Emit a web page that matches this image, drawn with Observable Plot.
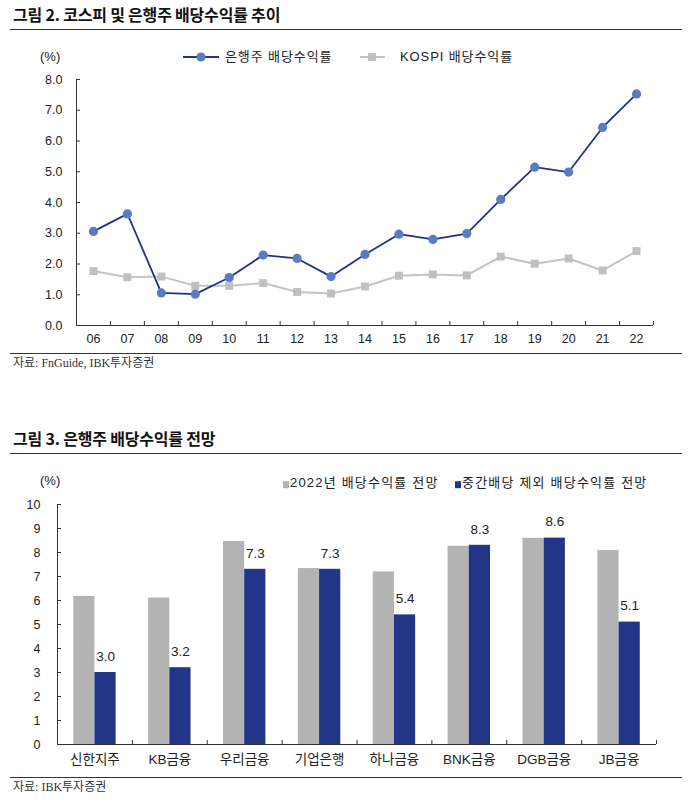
<!DOCTYPE html>
<html><head><meta charset="utf-8">
<script src="https://cdn.jsdelivr.net/npm/d3@7"></script>
<script src="https://cdn.jsdelivr.net/npm/@observablehq/plot@0.6"></script>
<style>
body{margin:0;background:#fff}
#root{position:relative;width:688px;height:802px;overflow:hidden;font-family:"Liberation Sans","Noto Sans CJK KR",sans-serif;color:#222}
.abs{position:absolute;white-space:nowrap;line-height:1.2;transform:translateY(-50%)}
.title{font-family:"Noto Sans CJK KR",sans-serif;font-weight:700;font-size:16px;left:13px;color:#111;letter-spacing:-0.2px}
.hr{position:absolute;left:10px;width:672px;height:1px;background:#333}
.src{font-family:"Liberation Serif","Noto Sans CJK KR",serif;font-size:12px;left:13px;color:#333}
.leg{font-size:13px;color:#222;letter-spacing:0.9px}
.leg2{font-size:13px;color:#222;letter-spacing:1.2px}
.pct{font-size:13px;color:#222}
.chart{position:absolute;left:0}
.sq{display:inline-block;width:6px;height:7px;margin-right:1px;vertical-align:-0.5px}
</style></head><body><div id="root"></div>
<script>
// ---- Figure 2 data ----
const years = ["06","07","08","09","10","11","12","13","14","15","16","17","18","19","20","21","22"];
const bankYield = [3.06, 3.63, 1.06, 1.02, 1.56, 2.29, 2.18, 1.59, 2.31, 2.97, 2.80, 2.99, 4.10, 5.15, 4.99, 6.44, 7.53];
const kospiYield = [1.77, 1.57, 1.59, 1.29, 1.29, 1.38, 1.09, 1.04, 1.27, 1.62, 1.66, 1.63, 2.24, 2.01, 2.18, 1.79, 2.42];
const yTicks1 = [0, 1, 2, 3, 4, 5, 6, 7, 8];

// ---- Figure 3 data ----
const banks = ["신한지주","KB금융","우리금융","기업은행","하나금융","BNK금융","DGB금융","JB금융"];
const fy2022 = [6.17, 6.10, 8.46, 7.33, 7.19, 8.26, 8.59, 8.08];
const exInterim = [3.0, 3.2, 7.3, 7.3, 5.4, 8.3, 8.6, 5.1];
const yTicks2 = [0, 1, 2, 3, 4, 5, 6, 7, 8, 9, 10];

const series1 = ["은행주 배당수익률", "KOSPI 배당수익률"];
const series2 = ["2022년 배당수익률 전망", "중간배당 제외 배당수익률 전망"];

const BLUE_LINE = "#1f3488", BLUE_DOT = "#5a7cc0", GRAY_LINE = "#c4c4c4", GRAY_SQ = "#c0c0c0";
const GRAY_BAR = "#b3b3b3", BLUE_BAR = "#233587", AX = "#333";
const FONT = '"Liberation Sans","Noto Sans CJK KR",sans-serif';
const W = 688;
const root = document.getElementById("root");

function addText(cls, txt, left, top, extra) {
  const d = document.createElement("div");
  d.className = "abs " + cls;
  d.style.left = left + "px"; d.style.top = top + "px";
  if (extra) Object.assign(d.style, extra);
  d.innerHTML = txt;
  root.appendChild(d);
  return d;
}
function addHr(top) {
  const d = document.createElement("div");
  d.className = "hr"; d.style.top = top + "px";
  root.appendChild(d);
}

// ---------- Figure 2 ----------
addText("title", "그림 2. 코스피 및 은행주 배당수익률 추이", 13, 15);
addHr(29);
addText("pct", "(%)", 40, 57);
// legend 1
const legSvg = document.createElementNS("http://www.w3.org/2000/svg", "svg");
legSvg.setAttribute("width", W); legSvg.setAttribute("height", 20);
legSvg.style.position = "absolute"; legSvg.style.left = "0px"; legSvg.style.top = "47px";
legSvg.innerHTML =
  `<line x1="183" x2="219" y1="10" y2="10" stroke="${BLUE_LINE}" stroke-width="1.8"/>` +
  `<circle cx="201" cy="10" r="4.6" fill="${BLUE_DOT}"/>` +
  `<line x1="360" x2="385" y1="10" y2="10" stroke="${GRAY_LINE}" stroke-width="2"/>` +
  `<rect x="368" y="6" width="8" height="8" fill="${GRAY_SQ}"/>`;
root.appendChild(legSvg);
addText("leg", series1[0], 225, 57);
addText("leg", series1[1], 400, 57);

const m1 = {top: 19, right: 35, bottom: 20, left: 76};
const h1 = 285;
const pw1 = W - m1.left - m1.right;
const step1 = pw1 / years.length;
const rows1 = years.map((y, i) => ({year: y, bank: bankYield[i], kospi: kospiYield[i]}));
const unit1 = (h1 - m1.top - m1.bottom) / 8;

const chart1 = Plot.plot({
  width: W, height: h1,
  marginTop: m1.top, marginRight: m1.right, marginBottom: m1.bottom, marginLeft: m1.left,
  style: {fontFamily: FONT, fontSize: "12.5px", color: "#222", background: "transparent", overflow: "visible"},
  x: {type: "band", domain: years, padding: 0, round: false, label: null},
  y: {domain: [0, 8], label: null},
  marks: [
    Plot.axisY(yTicks1, {tickSize: 0, tickPadding: 14, tickFormat: d3.format(".1f"), fontSize: 12.5}),
    Plot.axisX({tickSize: 0, tickPadding: 9, fontSize: 12.5}),
    Plot.ruleY(yTicks1, {insetRight: pw1 - 4, stroke: AX}),
    Plot.ruleX([years[0]], {x: d => d, dx: -step1 / 2, y1: 0, y2: 8, stroke: AX}),
    Plot.ruleX(years, {x: d => d, dx: -step1 / 2, y1: 0, y2: 4 / unit1, stroke: AX}),
    Plot.ruleX([years[years.length - 1]], {x: d => d, dx: step1 / 2, y1: 0, y2: 4 / unit1, stroke: AX}),
    Plot.ruleY([0], {stroke: AX}),
    Plot.line(rows1, {x: "year", y: "kospi", stroke: GRAY_LINE, strokeWidth: 2}),
    Plot.dot(rows1, {x: "year", y: "kospi", symbol: "square", r: 4.5, fill: GRAY_SQ}),
    Plot.line(rows1, {x: "year", y: "bank", stroke: BLUE_LINE, strokeWidth: 1.8}),
    Plot.dot(rows1, {x: "year", y: "bank", r: 4.6, fill: BLUE_DOT})
  ]
});
const c1 = document.createElement("div");
c1.className = "chart"; c1.style.top = "60px";
c1.appendChild(chart1); root.appendChild(c1);

addHr(353);
addText("src", "자료: FnGuide, IBK투자증권", 13, 363);

// ---------- Figure 3 ----------
addText("title", "그림 3. 은행주 배당수익률 전망", 13, 439);
addHr(453);
addText("pct", "(%)", 40, 481);
addText("leg2", `<span class="sq" style="background:${GRAY_BAR}"></span>${series2[0]}`, 283, 483);
addText("leg2", `<span class="sq" style="background:${BLUE_BAR}"></span>${series2[1]}`, 455, 483);

const m2 = {top: 14, right: 32, bottom: 30, left: 57};
const h2 = 284;
const pw2 = W - m2.left - m2.right;
const step2 = pw2 / banks.length;
const unit2 = (h2 - m2.top - m2.bottom) / 10;
const rows2 = banks.map((b, i) => ({bank: b, fy: fy2022[i], ex: exInterim[i]}));
const barW = 21.2;

const chart2 = Plot.plot({
  width: W, height: h2,
  marginTop: m2.top, marginRight: m2.right, marginBottom: m2.bottom, marginLeft: m2.left,
  style: {fontFamily: FONT, fontSize: "12.5px", color: "#222", background: "transparent", overflow: "visible"},
  x: {type: "band", domain: banks, padding: 0, round: false, label: null},
  y: {domain: [0, 10], label: null},
  marks: [
    Plot.barY(rows2, {x: "bank", y: "fy", fill: GRAY_BAR, insetLeft: step2 / 2 - barW, insetRight: step2 / 2}),
    Plot.barY(rows2, {x: "bank", y: "ex", fill: BLUE_BAR, insetLeft: step2 / 2, insetRight: step2 / 2 - barW}),
    Plot.text(rows2, {x: "bank", y: "ex", text: d => d3.format(".1f")(d.ex), dx: barW / 2, dy: -16, fontSize: 13.5, fill: "#222"}),
    Plot.axisY(yTicks2, {tickSize: 0, tickPadding: 17, fontSize: 12.5}),
    Plot.axisX({tickSize: 0, tickPadding: 10, fontSize: 13.5}),
    Plot.ruleY(yTicks2, {insetRight: pw2 - 4, stroke: AX}),
    Plot.ruleX([banks[0]], {x: d => d, dx: -step2 / 2, y1: 0, y2: 10, stroke: AX}),
    Plot.ruleX(banks, {x: d => d, dx: -step2 / 2, y1: 0, y2: 4 / unit2, stroke: AX}),
    Plot.ruleX([banks[banks.length - 1]], {x: d => d, dx: step2 / 2, y1: 0, y2: 4 / unit2, stroke: AX}),
    Plot.ruleY([0], {stroke: AX})
  ]
});
const c2 = document.createElement("div");
c2.className = "chart"; c2.style.top = "490px";
c2.appendChild(chart2); root.appendChild(c2);

addHr(777);
addText("src", "자료: IBK투자증권", 13, 787);
</script>
</body></html>
